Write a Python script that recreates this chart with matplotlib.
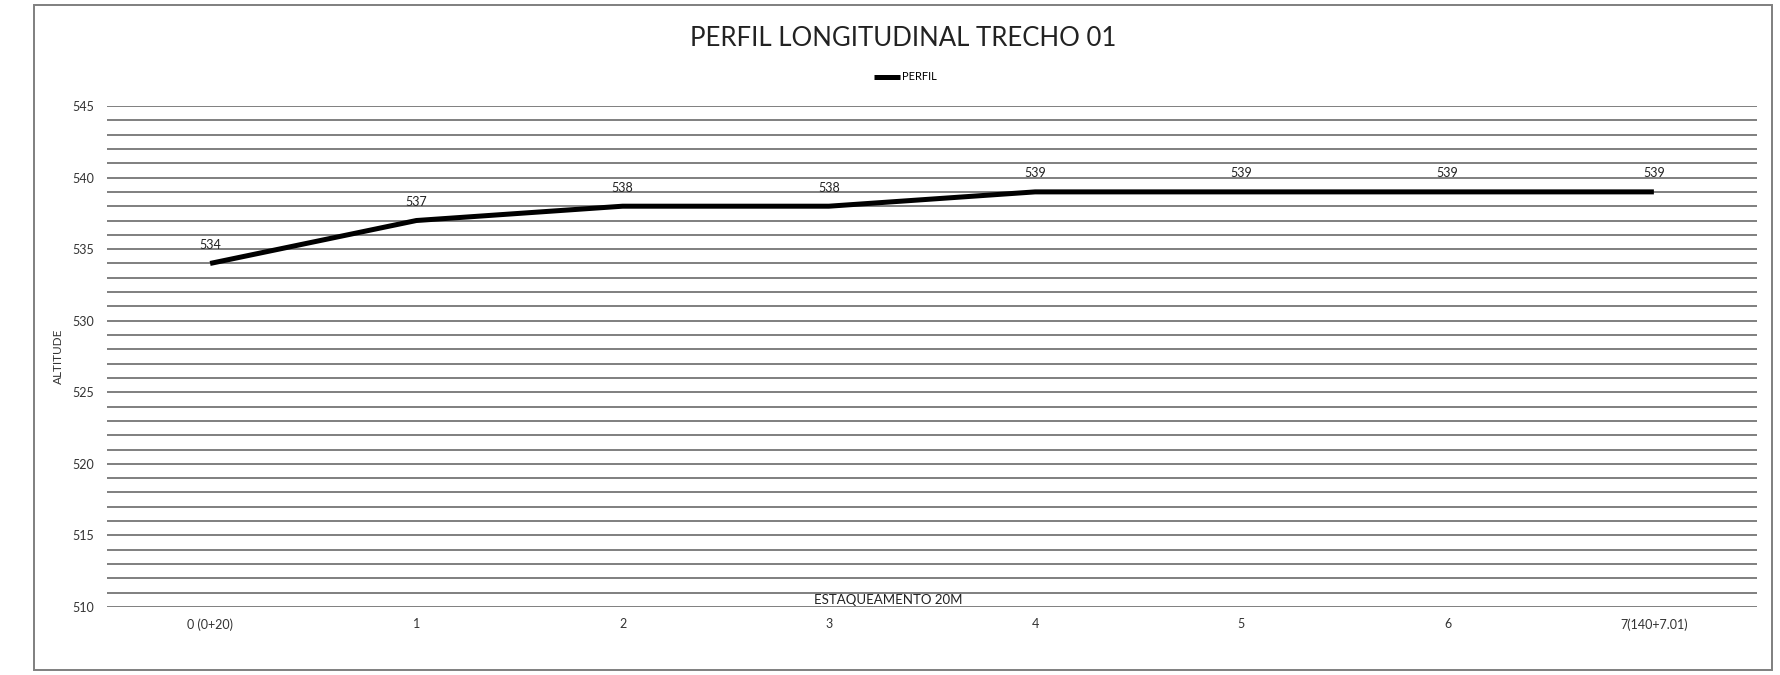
import matplotlib
matplotlib.use("Agg")
import matplotlib.pyplot as plt
from matplotlib.patches import Rectangle
import numpy as np

categories = ["0 (0+20)", "1", "2", "3", "4", "5", "6", "7(140+7.01)"]
altitude = [534, 537, 538, 538, 539, 539, 539, 539]
y_ticks = [510, 515, 520, 525, 530, 535, 540, 545]

plt.rcParams['font.family'] = ['Lato', 'DejaVu Sans']

W, H = 1781, 675
fig = plt.figure(figsize=(W / 100, H / 100), dpi=100)
ax = fig.add_axes([107 / W, 1 - 607 / H, (1757 - 107) / W, (607 - 106) / H])

x = np.arange(len(categories))
ax.plot(x, altitude, color="black", lw=3.6, solid_capstyle="butt", zorder=3, label="PERFIL")
for xi, yi in zip(x, altitude):
    ax.annotate(str(yi), (xi, yi), xytext=(0, 9), textcoords="offset points",
                ha="center", va="bottom", fontsize=9, color="#222222")

ax.set_ylim(510, 545)
ax.set_xlim(-0.5, 7.5)
for g in range(510, 546):
    ax.axhline(g, color="#7f7f7f", lw=1.4, zorder=1)

ax.set_yticks(y_ticks)
ax.set_yticklabels([str(v) for v in y_ticks], fontsize=9, color="#333333")
ax.set_xticks(x)
ax.set_xticklabels(categories, fontsize=9, color="#333333")
ax.tick_params(axis="both", length=0)
ax.tick_params(axis="x", pad=8)
ax.tick_params(axis="y", pad=9)
for s in ax.spines.values():
    s.set_visible(False)

ax.set_ylabel("ALTITUDE", fontsize=8.5, color="#333333", labelpad=6)

fig.text(903 / W, 1 - 38 / H, "PERFIL LONGITUDINAL TRECHO 01", ha="center", va="center",
         fontsize=18.5, color="#222222")
fig.text(888 / W, 1 - 600 / H, "ESTAQUEAMENTO 20M", ha="center", va="center",
         fontsize=9.5, color="#222222")

leg = fig.legend(loc="center", bbox_to_anchor=(905 / W, 1 - 77 / H), frameon=False,
                 fontsize=8, handlelength=2.4, handletextpad=0.1)

fig.patches.append(Rectangle((34 / W, 1 - 670 / H), (1772 - 34) / W, (670 - 5) / H,
                             transform=fig.transFigure, fill=False,
                             edgecolor="#7f7f7f", lw=1.4))

fig.savefig("out.png", dpi=100, facecolor="white")
